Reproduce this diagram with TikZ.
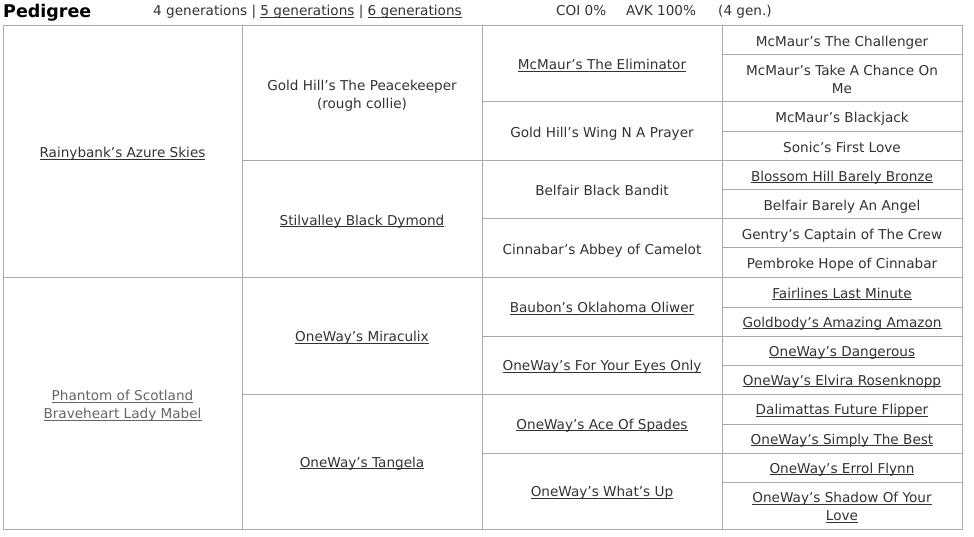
\documentclass[tikz,border=0pt]{standalone}
\usepackage{fontspec}
\setmainfont{DejaVu Sans}
\definecolor{txt}{HTML}{333333}
\definecolor{gridc}{HTML}{AAAAAA}
\definecolor{faded}{HTML}{666666}
\newcommand\lnk[1]{\setbox0\hbox{#1}\rlap{\rule[-2pt]{\wd0}{0.9pt}}\box0\relax}
\newcommand\cell[7][]{\node[cellbox, #1, minimum width={#5-#3}, minimum height={#6-#4}] (#2) at ({(#3+#5)/2},{(#4+#6)/2}) {#7};}
\tikzset{
  basefont/.style={font=\fontsize{13.6}{18}\selectfont},
  cellbox/.style={draw=gridc, line width=1pt, inner sep=0pt, align=center, text=txt,
    basefont, text height=13pt, text depth=1.5pt},
  twoline/.style={text height=32pt, text depth=1.5pt},
  headtxt/.style={inner sep=0pt, anchor=base west, text=txt, basefont},
}
\begin{document}
\begin{tikzpicture}[x=1pt,y=-1pt]
\useasboundingbox (0,0) rectangle (974,537);
\fill[white] (0,0) rectangle (974,537);
% header
\node[headtxt, font=\fontsize{17.5}{20}\selectfont\bfseries, text=black] (title) at (3,17.5) {Pedigree};
\node[headtxt] (gens) at (153,16) {4 generations | \lnk{5 generations} | \lnk{6 generations}};
\node[headtxt] (coi) at (556,16) {COI 0\%};
\node[headtxt] (avk) at (626,16) {AVK 100\%};
\node[headtxt] (gen) at (718,16) {(4 gen.)};
% generation 1
\cell{g1a}{3}{26}{242}{278}{\lnk{Rainybank’s Azure Skies}}
\cell[twoline]{g1b}{3}{278}{242}{529}{\color{faded}\lnk{Phantom of Scotland}\\\color{faded}\lnk{Braveheart Lady Mabel}}
% generation 2
\cell[twoline]{g2a}{242}{26}{482}{161}{Gold Hill’s The Peacekeeper\\(rough collie)}
\cell{g2b}{242}{161}{482}{278}{\lnk{Stilvalley Black Dymond}}
\cell{g2c}{242}{278}{482}{394}{\lnk{OneWay’s Miraculix}}
\cell{g2d}{242}{394}{482}{529}{\lnk{OneWay’s Tangela}}
% generation 3
\cell{g3a}{482}{26}{722}{102}{\lnk{McMaur’s The Eliminator}}
\cell{g3b}{482}{102}{722}{161}{Gold Hill’s Wing N A Prayer}
\cell{g3c}{482}{161}{722}{219}{Belfair Black Bandit}
\cell{g3d}{482}{219}{722}{278}{Cinnabar’s Abbey of Camelot}
\cell{g3e}{482}{278}{722}{336}{\lnk{Baubon’s Oklahoma Oliwer}}
\cell{g3f}{482}{336}{722}{394}{\lnk{OneWay’s For Your Eyes Only}}
\cell{g3g}{482}{394}{722}{453}{\lnk{OneWay’s Ace Of Spades}}
\cell{g3h}{482}{453}{722}{529}{\lnk{OneWay’s What’s Up}}
% generation 4
\cell{g4a}{722}{26}{962}{55}{McMaur’s The Challenger}
\cell[twoline]{g4b}{722}{55}{962}{102}{McMaur’s Take A Chance On\\Me}
\cell{g4c}{722}{102}{962}{132}{McMaur’s Blackjack}
\cell{g4d}{722}{132}{962}{161}{Sonic’s First Love}
\cell{g4e}{722}{161}{962}{190}{\lnk{Blossom Hill Barely Bronze}}
\cell{g4f}{722}{190}{962}{219}{Belfair Barely An Angel}
\cell{g4g}{722}{219}{962}{248}{Gentry’s Captain of The Crew}
\cell{g4h}{722}{248}{962}{278}{Pembroke Hope of Cinnabar}
\cell{g4i}{722}{278}{962}{307}{\lnk{Fairlines Last Minute}}
\cell{g4j}{722}{307}{962}{336}{\lnk{Goldbody’s Amazing Amazon}}
\cell{g4k}{722}{336}{962}{365}{\lnk{OneWay’s Dangerous}}
\cell{g4l}{722}{365}{962}{394}{\lnk{OneWay’s Elvira Rosenknopp}}
\cell{g4m}{722}{394}{962}{424}{\lnk{Dalimattas Future Flipper}}
\cell{g4n}{722}{424}{962}{453}{\lnk{OneWay’s Simply The Best}}
\cell{g4o}{722}{453}{962}{482}{\lnk{OneWay’s Errol Flynn}}
\cell[twoline]{g4p}{722}{482}{962}{529}{\lnk{OneWay’s Shadow Of Your}\\\lnk{Love}}
\end{tikzpicture}
\end{document}
